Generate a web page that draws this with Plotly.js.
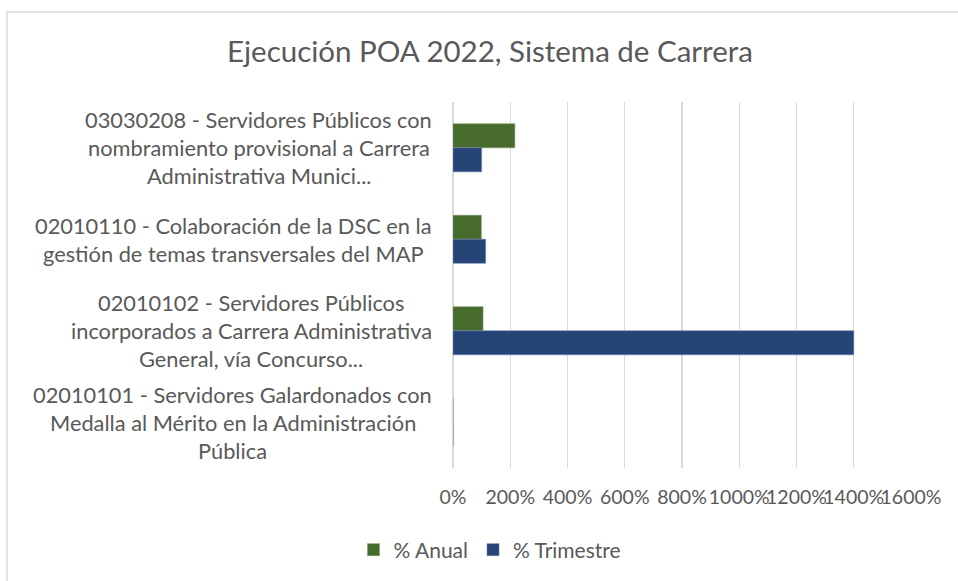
<!DOCTYPE html>
<html>
<head>
<meta charset="utf-8">
<script src="https://cdn.plot.ly/plotly-3.0.1.min.js"></script>
<style>html,body{margin:0;padding:0;background:#fff;}#chart{width:958px;height:581px;}</style>
</head>
<body>
<div id="chart"></div>
<script>
// Categories (top to bottom), lines separated by <br>
const categories = [
  "03030208 - Servidores Públicos con<br>nombramiento provisional a Carrera<br>Administrativa Munici...",
  "02010110 - Colaboración de la DSC en la<br>gestión de temas transversales del MAP",
  "02010102 - Servidores Públicos<br>incorporados a Carrera Administrativa<br>General, vía Concurso...",
  "02010101 - Servidores Galardonados con<br>Medalla al Mérito en la Administración<br>Pública"
];
const seriesNames = ["% Anual", "% Trimestre"];
const anual = [2.16, 0.99, 1.05, 0];
const trimestre = [1.00, 1.14, 14.00, 0];
const xTickVals = [0, 2, 4, 6, 8, 10, 12, 14, 16];

const FONT = "Lato, 'Open Sans', sans-serif";
const TXT = "#595959";
const LABEL_FS = 21.8;

// plot area geometry (pixels)
const L = 453, R = 47, T = 102, B = 113, W = 958, H = 581;
const pw = W - L - R, ph = H - T - B;

// measure text for centered multi-line category labels
const cv = document.createElement("canvas").getContext("2d");
cv.font = LABEL_FS + "px Lato";
const annotations = [];
const rightEdge = 432, lineH = 28;
categories.forEach((cat) => {
  const lines = cat.split("<br>");
  const maxW = Math.max(...lines.map(s => cv.measureText(s).width));
  const cx = rightEdge - maxW / 2;
  lines.forEach((ln, i) => {
    annotations.push({
      xref: "paper", yref: "y", x: 0, y: cat,
      xanchor: "center", yanchor: "middle",
      xshift: cx - L,
      yshift: -(i - (lines.length - 1) / 2) * lineH,
      text: ln, showarrow: false,
      font: {family: FONT, size: LABEL_FS, color: TXT}
    });
  });
});

const traces = [
  {type: "bar", orientation: "h", name: seriesNames[0], y: categories, x: anual,
   marker: {color: "#476A2D", line: {color: "#7d9968", width: 0.6}}, hoverinfo: "x"},
  {type: "bar", orientation: "h", name: seriesNames[1], y: categories, x: trimestre,
   marker: {color: "#264478", line: {color: "#6a80a8", width: 0.6}}, hoverinfo: "x"}
];

const layout = {
  width: W, height: H,
  margin: {l: L, r: R, t: T, b: B, pad: 0},
  paper_bgcolor: "#fff", plot_bgcolor: "#fff",
  font: {family: FONT, color: TXT, size: 19},
  title: {text: "Ejecución POA 2022, Sistema de Carrera", xref: "container", x: 490 / W, xanchor: "center",
          yref: "container", y: (H - 52) / H, yanchor: "middle",
          font: {family: FONT, size: 29.5, color: TXT}},
  barmode: "group", bargap: 0.475, bargroupgap: 0,
  xaxis: {range: [0, 16], tickvals: xTickVals, tickformat: ".0%", tickangle: 0,
          showgrid: true, gridcolor: "#d9d9d9", gridwidth: 1.3, zeroline: true, zerolinecolor: "#d9d9d9", zerolinewidth: 1.3,
          showline: false, ticks: "", ticklabelstandoff: 15,
          tickfont: {family: FONT, size: 19.5, color: TXT}, fixedrange: true},
  yaxis: {type: "category", autorange: "reversed", showticklabels: false, showgrid: false, zeroline: false,
          showline: false, ticks: "", fixedrange: true},
  legend: {orientation: "h", xref: "container", yref: "container", x: 490 / W, xanchor: "center",
           y: (H - 550) / H, yanchor: "middle", font: {family: FONT, size: 21, color: TXT},
           itemwidth: 30, traceorder: "normal"},
  annotations: annotations,
  shapes: [{type: "rect", xref: "paper", yref: "paper",
            x0: (7 - L) / pw, x1: (970 - L) / pw, y0: (T + ph - 600) / ph, y1: (T + ph - 12) / ph,
            line: {color: "#d9d9d9", width: 1.5}, fillcolor: "rgba(0,0,0,0)", layer: "below"}]
};

Plotly.newPlot("chart", traces, layout, {displayModeBar: false, staticPlot: true});
</script>
</body>
</html>
